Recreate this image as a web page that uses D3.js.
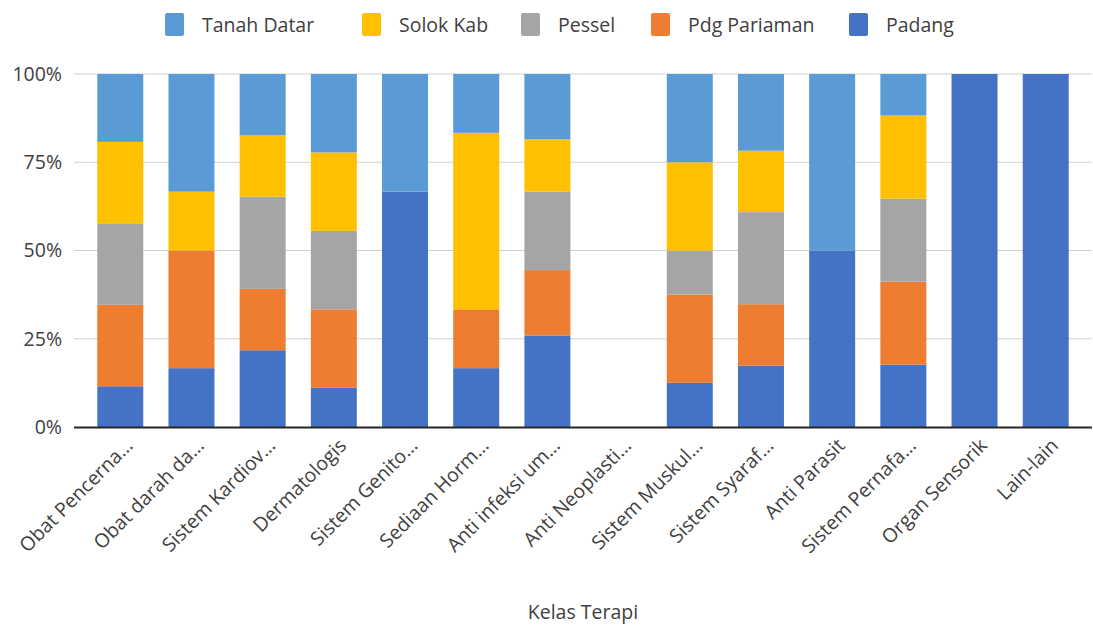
<!DOCTYPE html>
<html>
<head>
<meta charset="utf-8">
<script src="https://cdn.jsdelivr.net/npm/d3@7"></script>
<style>
  body { margin: 0; background: #fff; }
  text { font-family: "Open Sans", sans-serif; fill: #404040; }
</style>
</head>
<body>
<svg id="chart" width="1093" height="628"></svg>
<script>
// Categories (Kelas Terapi)
const categories = [
  'Obat Pencerna…', 'Obat darah da…', 'Sistem Kardiov…', 'Dermatologis',
  'Sistem Genito…', 'Sediaan Horm…', 'Anti infeksi um…', 'Anti Neoplasti…',
  'Sistem Muskul…', 'Sistem Syaraf…', 'Anti Parasit', 'Sistem Pernafa…',
  'Organ Sensorik', 'Lain-lain'
];

const padang      = [3, 1, 5, 1, 2, 1, 7, 0, 1, 4, 1, 3, 1, 1];
const pdgPariaman = [6, 2, 4, 2, 0, 1, 5, 0, 2, 4, 0, 4, 0, 0];
const pessel      = [6, 0, 6, 2, 0, 0, 6, 0, 1, 6, 0, 4, 0, 0];
const solokKab    = [6, 1, 4, 2, 0, 3, 4, 0, 2, 4, 0, 4, 0, 0];
const tanahDatar  = [5, 2, 4, 2, 1, 1, 5, 0, 2, 5, 1, 2, 0, 0];

const seriesNames = ['Padang', 'Pdg Pariaman', 'Pessel', 'Solok Kab', 'Tanah Datar'];
const seriesValues = [padang, pdgPariaman, pessel, solokKab, tanahDatar];
const colors = ['#4472c4', '#ed7d31', '#a5a5a5', '#ffc000', '#5b9bd5'];
const legendOrder = ['Tanah Datar', 'Solok Kab', 'Pessel', 'Pdg Pariaman', 'Padang'];
const yTicks = [0, 0.25, 0.5, 0.75, 1];

// Build rows for d3.stack
const rows = categories.map((c, i) => {
  const row = { category: c };
  seriesNames.forEach((s, k) => { row[s] = seriesValues[k][i]; });
  return row;
});

const stack = d3.stack().keys(seriesNames).offset(d3.stackOffsetExpand);
const stacked = stack(rows);

const svg = d3.select('#chart');
const plotLeft = 74, plotRight = 1092, plotTop = 74, plotBottom = 427;
const fontSize = 19.5;

const xScale = d3.scaleBand()
  .domain(categories)
  .range([plotLeft, plotRight])
  .paddingInner(0.354)
  .paddingOuter(0.327);

const yScale = d3.scaleLinear().domain([0, 1]).range([plotBottom, plotTop]);
const color = d3.scaleOrdinal().domain(seriesNames).range(colors);

// Gridlines
svg.append('g')
  .selectAll('line')
  .data(yTicks.filter(d => d > 0))
  .enter()
  .append('line')
  .attr('x1', plotLeft)
  .attr('x2', plotRight)
  .attr('y1', d => yScale(d))
  .attr('y2', d => yScale(d))
  .attr('stroke', '#d0d0d0')
  .attr('stroke-width', 1.2);

// Y axis labels
const yAxis = d3.axisLeft(yScale)
  .tickValues(yTicks)
  .tickFormat(d3.format('.0%'))
  .tickSize(0)
  .tickPadding(12);

const yG = svg.append('g')
  .attr('transform', `translate(${plotLeft}, 0)`)
  .call(yAxis);
yG.select('.domain').remove();
yG.selectAll('text')
  .attr('font-size', fontSize)
  .attr('fill', '#404040')
  .style('font-family', '"Open Sans", sans-serif');

// Bars
svg.append('g')
  .selectAll('g')
  .data(stacked)
  .enter()
  .append('g')
  .attr('fill', d => color(d.key))
  .selectAll('rect')
  .data(d => d)
  .enter()
  .append('rect')
  .attr('x', d => xScale(d.data.category))
  .attr('y', d => yScale(d[1]))
  .attr('width', xScale.bandwidth())
  .attr('height', d => Math.max(0, yScale(d[0]) - yScale(d[1])));

// X axis
const xAxis = d3.axisBottom(xScale).tickSize(0).tickPadding(0);
const xG = svg.append('g')
  .attr('transform', `translate(0, ${plotBottom})`)
  .call(xAxis);
xG.select('.domain')
  .attr('d', `M${plotLeft},0.5H${plotRight}`)
  .attr('stroke', '#262626')
  .attr('stroke-width', 2);
xG.selectAll('.tick text')
  .attr('font-size', fontSize)
  .attr('fill', '#404040')
  .style('font-family', '"Open Sans", sans-serif')
  .attr('text-anchor', 'end')
  .attr('transform', 'translate(9, 15) rotate(-45)')
  .attr('dy', '0.35em')
  .attr('y', 0);

// X axis title
svg.append('text')
  .attr('x', 583)
  .attr('y', 619)
  .attr('text-anchor', 'middle')
  .attr('font-size', fontSize)
  .text('Kelas Terapi');

// Legend
const legendX = [165, 362, 521, 651, 849];
const legend = svg.append('g')
  .selectAll('g')
  .data(legendOrder)
  .enter()
  .append('g')
  .attr('transform', (d, i) => `translate(${legendX[i]}, 13)`);

legend.append('rect')
  .attr('width', 19)
  .attr('height', 23)
  .attr('rx', 2)
  .attr('fill', d => color(d));

legend.append('text')
  .attr('x', 37)
  .attr('y', 12)
  .attr('dy', '0.35em')
  .attr('font-size', fontSize)
  .text(d => d);
</script>
</body>
</html>
